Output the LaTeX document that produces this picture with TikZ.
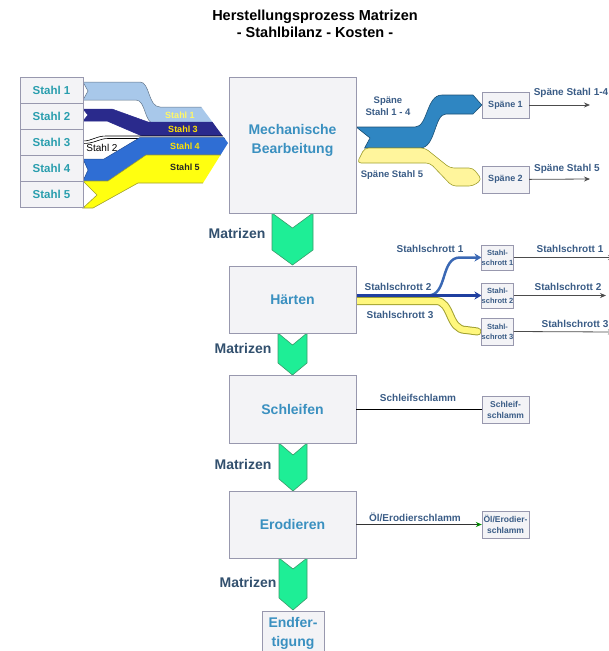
\documentclass[tikz,border=0pt]{standalone}
\usepackage{fontspec}
\setmainfont{Liberation Sans}
\usetikzlibrary{arrows.meta, positioning, calc}
\pgfdeclarelayer{bg}
\pgfsetlayers{bg,main}

\definecolor{boxfill}{HTML}{F3F3F6}
\definecolor{boxline}{HTML}{9898AE}
\definecolor{tealtxt}{HTML}{2A9EAE}
\definecolor{proctxt}{HTML}{3A90C0}
\definecolor{labtxt}{HTML}{3A5C86}
\definecolor{mattxt}{HTML}{32506E}
\definecolor{matgreen}{HTML}{1EEE96}
\definecolor{matline}{HTML}{3A9A6A}
\definecolor{hellblau}{HTML}{A8C8EA}
\definecolor{dunkelblau}{HTML}{2A2A8C}
\definecolor{koenigsblau}{HTML}{2F6ED4}
\definecolor{stahlblau}{HTML}{2F86C2}
\definecolor{gelb}{HTML}{FFFF10}
\definecolor{blassgelb}{HTML}{FFF59C}
\definecolor{oliv}{HTML}{A0A030}
\definecolor{schrottblau}{HTML}{3A68B4}
\definecolor{schrottdunkel}{HTML}{1F3FA0}

\newcommand{\bfs}[2]{\fontsize{#1}{#2}\selectfont\bfseries}

\tikzset{
  stahlbox/.style={draw=boxline, fill=boxfill, minimum width=63pt, minimum height=26pt, inner sep=0pt, text=tealtxt, font=\bfs{11.5}{13}},
  procbox/.style={draw=boxline, fill=boxfill, minimum width=127pt, inner sep=0pt, text=proctxt, font=\bfs{14}{19}, align=center},
  smallbox/.style={draw=boxline, fill=boxfill, inner sep=0pt, text=labtxt, align=center},
  flowlab/.style={text=labtxt, font=\bfs{10}{12}, align=center, inner sep=0pt},
  matlab/.style={text=mattxt, font=\bfs{14}{16}},
  bandlab/.style={font=\bfs{9}{10}, inner sep=0pt},
  chev/.style={fill=matgreen, draw=matline, line width=0.6pt},
  outlet/.style={draw=black!70, line width=0.8pt, -{Stealth[length=6pt, width=5pt]}},
}

\begin{document}
\begin{tikzpicture}[x=1pt, y=-1pt]
  \useasboundingbox (0,0) rectangle (609,651);

  % Titel
  \node[font=\bfs{14.5}{17}, align=center] (titel) at (315,23.5) {Herstellungsprozess Matrizen\\- Stahlbilanz - Kosten -};

  % Stahl-Eingang
  \node[stahlbox] (st1) at (51.5,90) {Stahl 1};
  \node[stahlbox] (st2) at (51.5,116) {Stahl 2};
  \node[stahlbox] (st3) at (51.5,142) {Stahl 3};
  \node[stahlbox] (st4) at (51.5,168) {Stahl 4};
  \node[stahlbox] (st5) at (51.5,194) {Stahl 5};

  % Prozessschritte
  \node[procbox, minimum height=136pt] (mech) at (292.5,145) {};
  \node[procbox, draw=none, fill=none] (mechtxt) at (292.5,140) {Mechanische\\Bearbeitung};
  \node[procbox, minimum height=67pt] (haerten) at (292.5,299.5) {Härten};
  \node[procbox, minimum height=68pt] (schleifen) at (292.5,409) {Schleifen};
  \node[procbox, minimum height=67pt] (erodieren) at (292.5,524.5) {Erodieren};
  \node[procbox, minimum width=62pt, minimum height=44pt] (endf) at (293,633) {Endfer-\\tigung};

  % Reststoffe
  \node[smallbox, minimum width=47pt, minimum height=26pt, font=\bfs{9}{10}] (sp1) at (505.5,105) {Späne 1};
  \node[smallbox, minimum width=47pt, minimum height=27pt, font=\bfs{9}{10}] (sp2) at (505.5,179.5) {Späne 2};
  \node[smallbox, minimum width=31pt, minimum height=25pt, font=\bfs{7.5}{10}] (ss1) at (497.5,257.5) {Stahl-\\schrott 1};
  \node[smallbox, minimum width=31pt, minimum height=25pt, font=\bfs{7.5}{10}] (ss2) at (497.5,295.5) {Stahl-\\schrott 2};
  \node[smallbox, minimum width=31pt, minimum height=27pt, font=\bfs{7.5}{10}] (ss3) at (497.5,331.5) {Stahl-\\schrott 3};
  \node[smallbox, minimum width=47pt, minimum height=27pt, font=\bfs{8.5}{11}] (schl) at (505.5,409.5) {Schleif-\\schlamm};
  \node[smallbox, minimum width=47pt, minimum height=27pt, font=\bfs{8.5}{11}] (oel) at (505.5,524.5) {Öl/Erodier-\\schlamm};

  \begin{pgfonlayer}{bg}
    % Stahlstroeme in die Bearbeitung
    \begin{scope}
      \clip (75,50) -- (159,50) -- (228,143) -- (183,215) -- (75,215) -- cycle;
      \draw[fill=hellblau, draw=hellblau!60!black, line width=0.5pt] (83,82) -- (140,82) .. controls (150,82) and (148,107) .. (160,107) -- (240,107) -- (240,124) -- (155,124) .. controls (144,124) and (146,100) .. (136,100) -- (83,100) -- (88,91) -- cycle;
      \draw[fill=dunkelblau, draw=dunkelblau, line width=0.5pt] (83,109) -- (112,109) -- (148,122) -- (240,122) -- (240,136) -- (142,136) -- (107,121) -- (83,121) -- (88,115) -- cycle;
      \draw[fill=white, draw=black, line width=0.6pt] (83,141) .. controls (92,141) and (96,136) .. (106,136) -- (240,136) -- (240,138.5) -- (108,138.5) .. controls (99,138.5) and (95,143.5) .. (83,143.5) -- cycle;
      \draw[fill=koenigsblau, draw=koenigsblau!70!black, line width=0.5pt] (83,159) -- (104,159) -- (140,137.5) -- (240,137.5) -- (240,155) -- (146,155) -- (108,181) -- (83,181) -- (88,170) -- cycle;
      \draw[fill=gelb, draw=oliv, line width=0.6pt] (83,181) -- (108,181) -- (146,155) -- (240,155) -- (240,183) -- (138,183) -- (93,208) -- (83,208) -- (97,195) -- cycle;
    \end{scope}

    % Spaene
    \draw[fill=stahlblau, draw=stahlblau!60!black, line width=0.6pt] (mech.east |- 0,127) -- (415,127) .. controls (428,127) and (426,95) .. (442,95) -- (473,95) -- (sp1.west) -- (473,114) -- (446,114) .. controls (434,114) and (436,148) .. (420,148) -- (364.6,148) -- (370,138) -- cycle;
    \draw[fill=blassgelb, draw=oliv, line width=0.6pt, rounded corners=4pt] (364.6,148) -- (425,148) -- (450,168) -- (473,168) -- (sp2.west) -- (473,186) -- (452,186) -- (430,163) -- (357,163) -- cycle;

    % Stahlschrott
    \draw[line width=8pt, oliv, line cap=round] ($(haerten.east)+(0,1.5)$) -- (436,301) .. controls (452,301) and (448,330) .. (466,330) -- ($(ss3.west)+(-4,0)$);
    \draw[line width=6pt, blassgelb!80!yellow, line cap=round] ($(haerten.east)+(0,1.5)$) -- (436,301) .. controls (452,301) and (448,330) .. (466,330) -- ($(ss3.west)+(-4,0)$);
    \draw[line width=2.5pt, schrottblau, -{Stealth[length=7pt, width=8pt]}] (haerten.east |- ss2.west) -- (428,295.5) .. controls (448,295.5) and (440,257.5) .. (460,257.5) -- (ss1.west);
    \draw[line width=3.5pt, schrottdunkel, -{Stealth[length=7pt, width=8pt]}] (haerten.east |- ss2.west) -- (ss2.west);

    % Matrizen-Pfeile
    \draw[chev] (272,213) -- (292.5,228) -- (313,213) -- (313,250) -- (292.5,265) -- (272,250) -- cycle;
    \draw[chev] (278,333) -- (292.5,345) -- (307,333) -- (307,363) -- (292.5,375) -- (278,363) -- cycle;
    \draw[chev] (279,443) -- (293,455) -- (307,443) -- (307,479) -- (293,491) -- (279,479) -- cycle;
    \draw[chev] (279,558) -- (293,569) -- (307,558) -- (307,598) -- (293,610) -- (279,598) -- cycle;
  \end{pgfonlayer}

  % Beschriftung der Stroeme
  \node[bandlab, text=yellow!60!white] (lab1) at (180,115) {Stahl 1};
  \node[bandlab, text=yellow!85!orange] (lab3) at (183,129) {Stahl 3};
  \node[bandlab, text=yellow!85!orange] (lab4) at (185,146.5) {Stahl 4};
  \node[bandlab, text=black!85] (lab5) at (185,167) {Stahl 5};
  \node[font=\fontsize{10}{11}\selectfont, inner sep=0pt] (lab2) at (102,148) {Stahl 2};

  \node[matlab] (mat1) at (237,233) {Matrizen};
  \node[matlab] (mat2) at (243,348) {Matrizen};
  \node[matlab] (mat3) at (243,464) {Matrizen};
  \node[matlab] (mat4) at (248,582) {Matrizen};

  \node[flowlab, font=\bfs{9.5}{12}] (spl1) at (388,106) {Späne\\Stahl 1 - 4};
  \node[flowlab, font=\bfs{9.5}{12}] (spl2) at (392,175) {Späne Stahl 5};
  \node[flowlab] (ssl1) at (430,249) {Stahlschrott 1};
  \node[flowlab] (ssl2) at (398,287) {Stahlschrott 2};
  \node[flowlab] (ssl3) at (400,315) {Stahlschrott 3};
  \node[flowlab] (schll) at (418,398) {Schleifschlamm};
  \node[flowlab] (oell) at (415,517) {Öl/Erodierschlamm};

  % Abgaenge
  \coordinate (sp1out) at (590,105);
  \coordinate (sp2out) at (590,179);
  \coordinate (ss1out) at (614,257.5);
  \coordinate (ss2out) at (606,295.5);
  \coordinate (ss3out) at (614,332);
  \draw[outlet] (sp1) -- (sp1out);
  \draw[outlet] (sp2) -- (sp2out);
  \draw[outlet] (ss1) -- (ss1out);
  \draw[outlet] (ss2) -- (ss2out);
  \draw[outlet] (ss3.east) -- (ss3out);
  \node[flowlab] (spo1) at (571,93) {Späne Stahl 1-4};
  \node[flowlab] (spo2) at (567,169) {Späne Stahl 5};
  \node[flowlab] (sso1) at (570,249) {Stahlschrott 1};
  \node[flowlab] (sso2) at (568,287) {Stahlschrott 2};
  \node[flowlab] (sso3) at (575,324) {Stahlschrott 3};

  \draw[black, line width=0.8pt] (schleifen.east |- schl.west) -- (schl.west);
  \draw[black!80, line width=0.8pt, -{Stealth[length=6pt, width=5pt, color=green!55!black]}] (erodieren.east |- oel.west) -- (oel.west);
\end{tikzpicture}
\end{document}
